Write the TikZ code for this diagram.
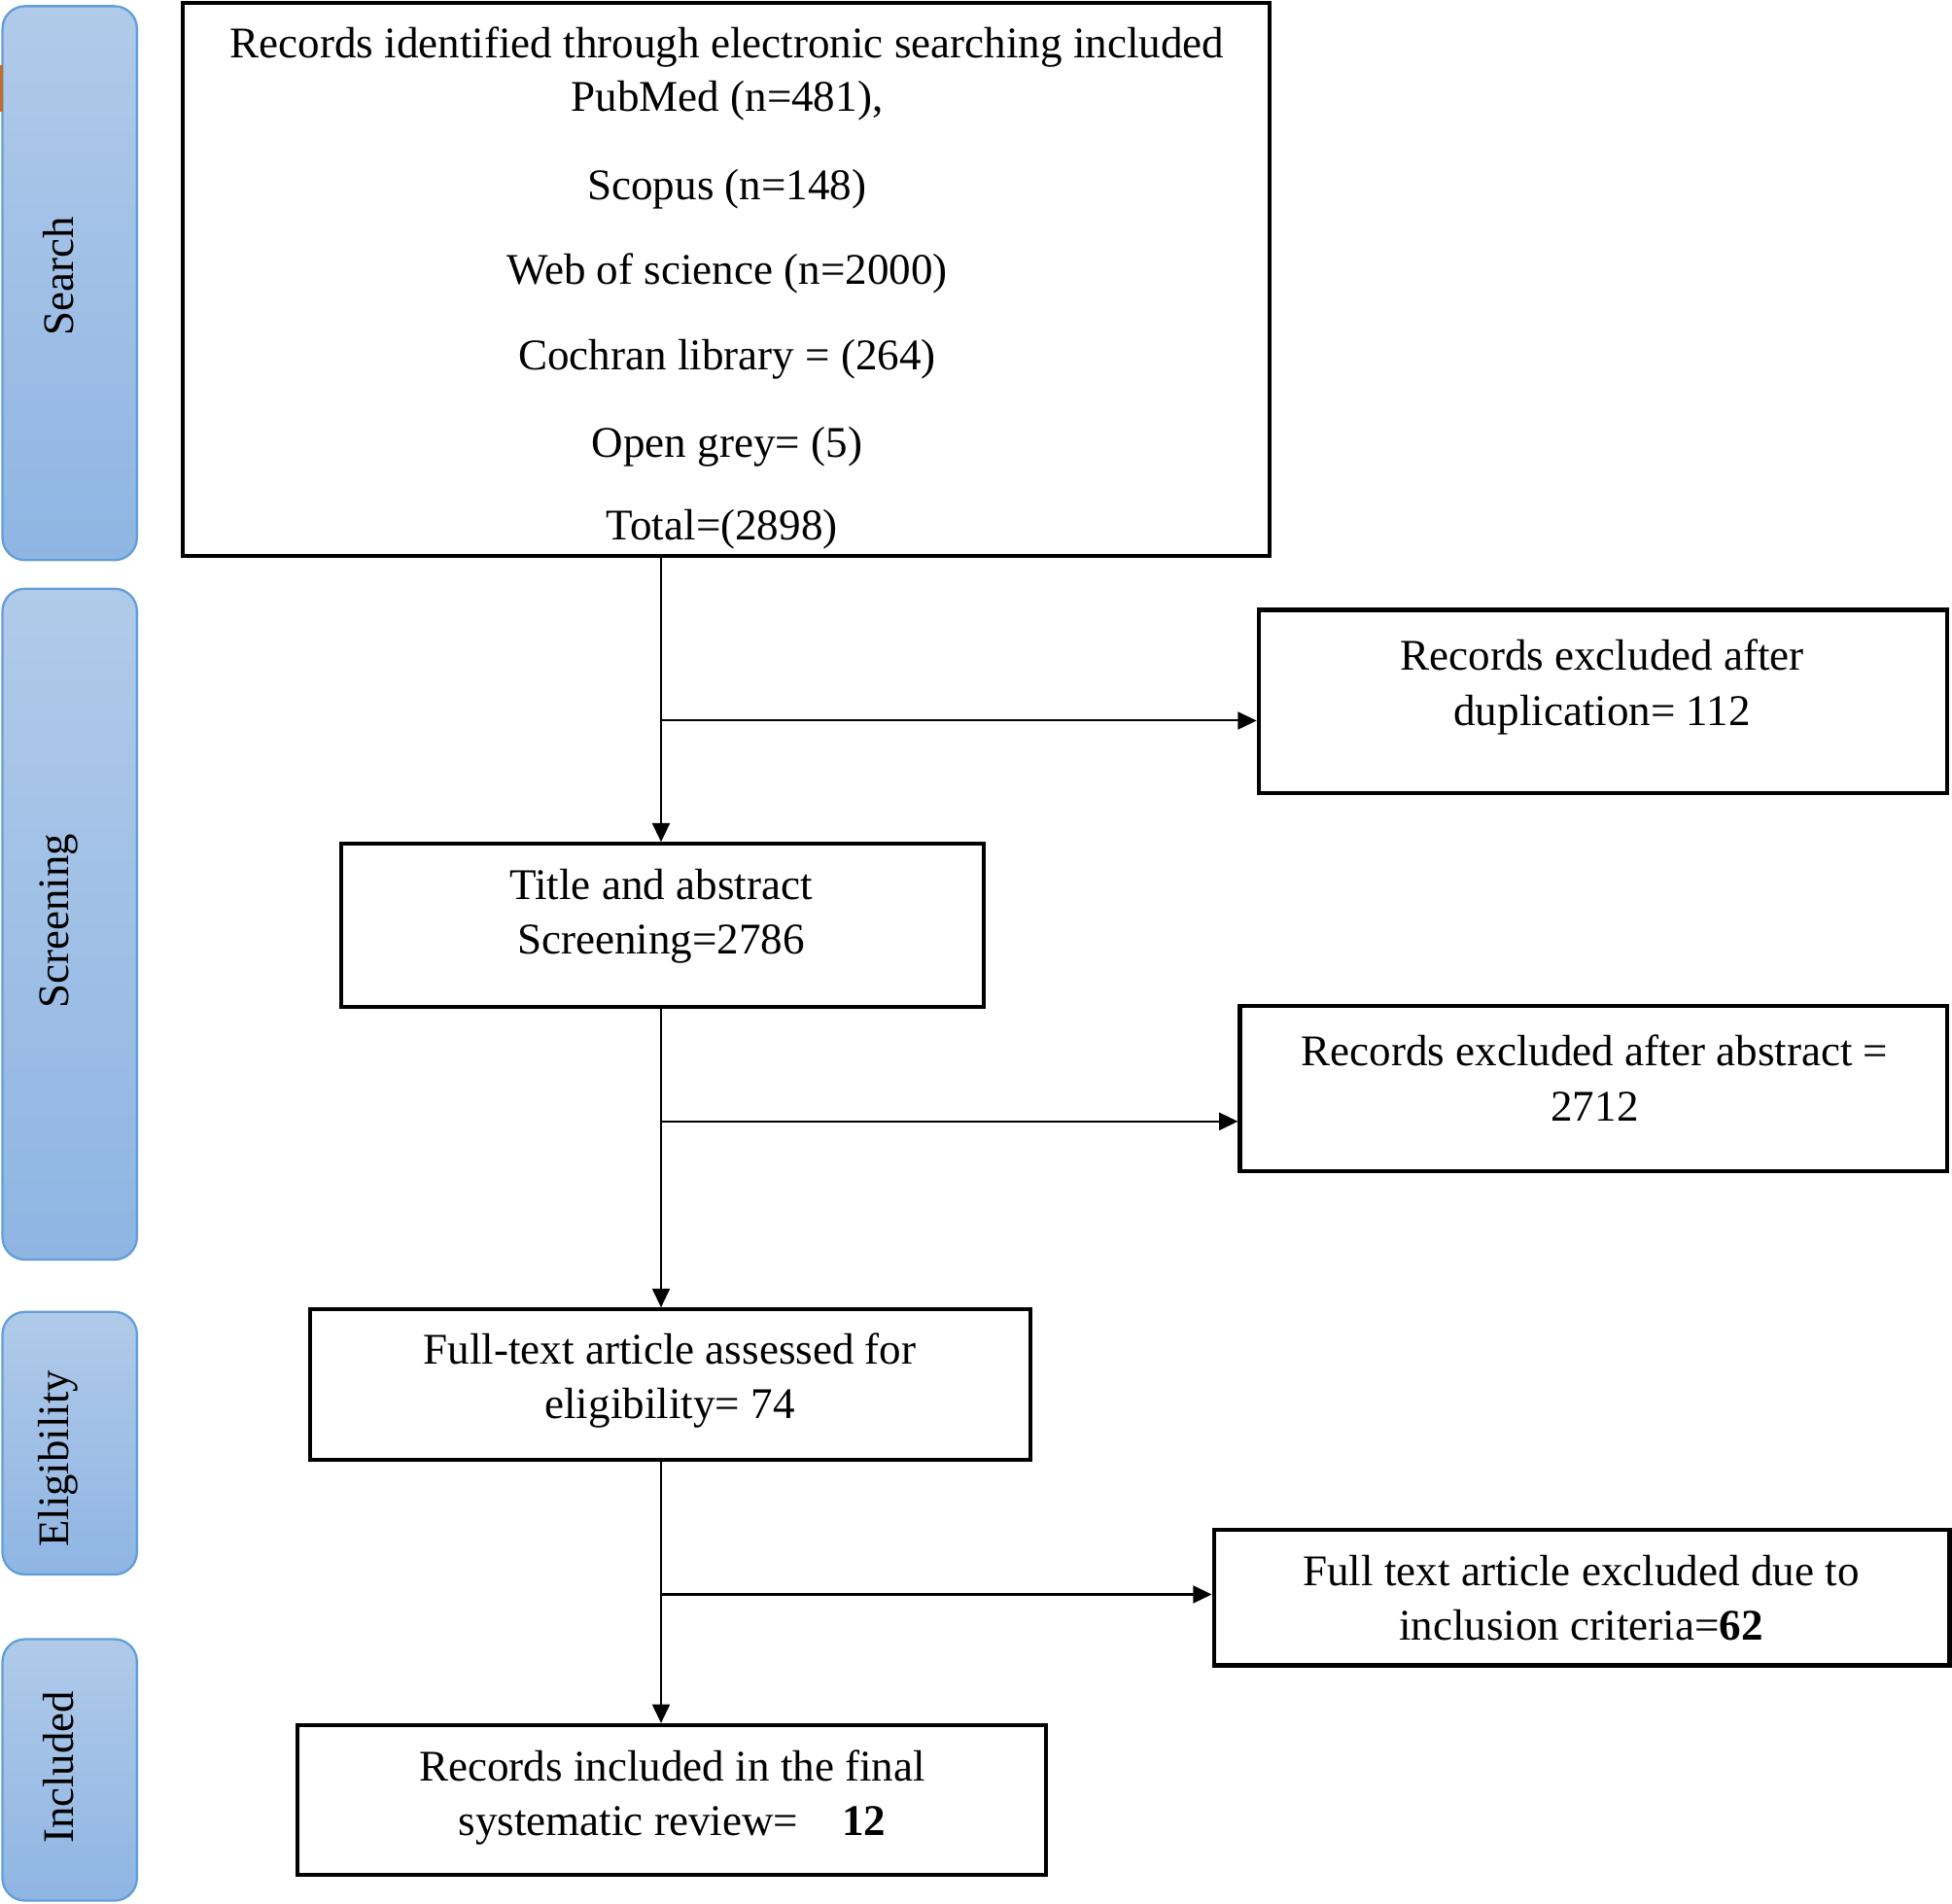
\documentclass[tikz,border=0pt]{standalone}
\usepackage{fontspec}
\setmainfont{Liberation Serif}
\usetikzlibrary{arrows.meta,fit}
\definecolor{panelTop}{RGB}{176,202,233}
\definecolor{panelBot}{RGB}{143,181,227}
\definecolor{panelEdge}{RGB}{98,158,216}
\definecolor{markOrange}{RGB}{196,110,40}
\begin{document}
\begin{tikzpicture}[x=0.5pt,y=-0.5pt,
  panel/.style={draw=panelEdge,line width=0.9pt,rounded corners=9pt,top color=panelTop,bottom color=panelBot,inner sep=0pt},
  plabel/.style={rotate=90,font=\fontsize{17.5}{20}\selectfont,inner sep=0pt},
  box/.style={draw=black,line width=1.6pt,inner sep=0pt},
  lbl/.style={align=center,font=\fontsize{17.6}{22}\selectfont,inner sep=0pt},
  arr/.style={line width=0.8pt,-{Triangle[length=7.5pt,width=7pt]}},
  ln/.style={line width=0.8pt}]
\useasboundingbox (0,0) rectangle (1568,1529);
% side panels
\node[panel,fit={(2,5) (110,450)}] (pS) {};
\node[panel,fit={(2,473) (110,1012)}] (pR) {};
\node[panel,fit={(2,1054) (110,1265)}] (pE) {};
\node[panel,fit={(2,1317) (110,1527)}] (pI) {};
\fill[markOrange] (0,52) rectangle (2.5,90);
\node[plabel] (lS) at (47,222) {Search};
\node[plabel] (lR) at (47,740) {Screening};
\node[plabel] (lE) at (47,1172) {Eligibility};
\node[plabel] (lI) at (47,1420) {Included};
% main boxes
\node[box,fit={(147,2) (1020,447)}] (top) {};
\node[box,fit={(1011,490) (1564,637)}] (dup) {};
\node[box,fit={(274,678) (790,809)}] (tab) {};
\node[box,fit={(996,808) (1564,941)}] (abx) {};
\node[box,fit={(249,1052) (828,1173)}] (ft) {};
\node[box,fit={(975,1229) (1566,1338)}] (ftx) {};
\node[box,fit={(239,1386) (840,1506)}] (fin) {};
% texts
\node[lbl] (t1) at (584,38) {Records identified through electronic searching included};
\node[lbl] (t2) at (584,81) {PubMed (n=481),};
\node[lbl] (t3) at (584,152) {Scopus (n=148)};
\node[lbl] (t4) at (584,220) {Web of science (n=2000)};
\node[lbl] (t5) at (584,289) {Cochran library = (264)};
\node[lbl] (t6) at (584,359) {Open grey= (5)};
\node[lbl] (t7) at (580,425) {Total=(2898)};
\node[lbl] (d1) at (1287,552) {Records excluded after\\duplication= 112};
\node[lbl] (a1) at (531,736) {Title and abstract\\Screening=2786};
\node[lbl] (b1) at (1281,866) {Records excluded after abstract =\\2712};
\node[lbl] (f1) at (538,1109) {Full-text article assessed for\\eligibility= 74};
\node[lbl] (g1) at (1270,1284) {Full text article excluded due to\\inclusion criteria=\textbf{62}};
\node[lbl] (h1) at (540,1444) {Records included in the final\\systematic review=\quad \textbf{12}};
% connectors
\coordinate (j1) at (531,579);
\coordinate (j2) at (531,901);
\coordinate (j3) at (531,1281);
\draw[arr] (j1 |- top.south) -- (j1 |- tab.north);
\draw[arr] (j1) -- (j1 -| dup.west);
\draw[arr] (j2 |- tab.south) -- (j2 |- ft.north);
\draw[arr] (j2) -- (j2 -| abx.west);
\draw[arr] (j3 |- ft.south) -- (j3 |- fin.north);
\draw[arr] (j3) -- (j3 -| ftx.west);
\end{tikzpicture}
\end{document}
